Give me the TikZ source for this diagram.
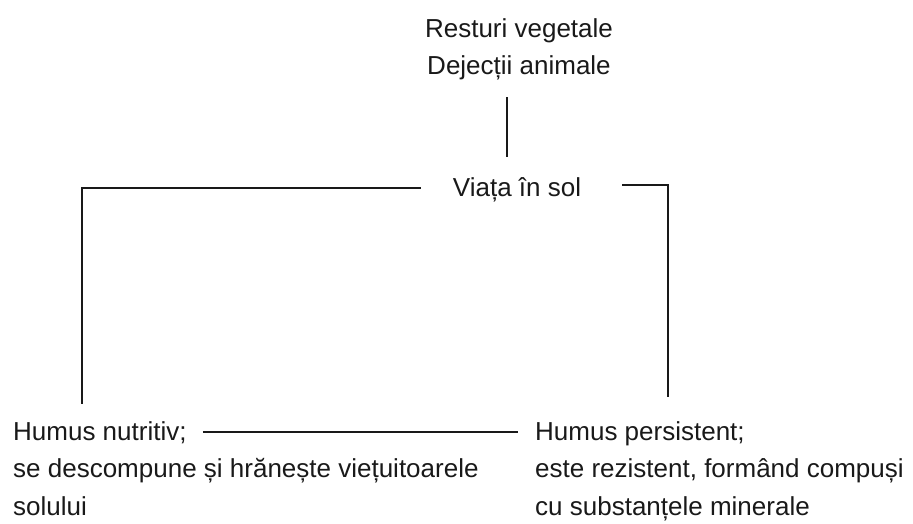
\documentclass[tikz,border=0pt]{standalone}
\usepackage{fontspec}
\setmainfont{Liberation Sans}
\usetikzlibrary{calc}

\begin{document}
\begin{tikzpicture}[x=1pt,y=-1pt]

		\tikzset{line/.style={draw,line width=1.8pt,black!90}}
		\tikzset{txt/.style={inner sep=0pt,text=black!90,font=\fontsize{26}{37.5}\selectfont}}
		\tikzset{gap/.style 2 args={shorten <=#1,shorten >=#2}}

		\useasboundingbox (0,0) rectangle (913,524);

		% Source of the organic matter.
		\node[txt,align=center,anchor=base] (src) at (519,75) {Resturi vegetale\\Dejecții animale};
		\node[txt,anchor=base] (life) at (517,196) {Viața în sol};

		% The two kinds of humus.
		\node[txt,anchor=base west] (nutr) at (13,440) {Humus nutritiv;};
		\node[txt,anchor=base west,align=left] (nutrd) at (13,515) {se descompune și hrănește viețuitoarele\\solului};
		\node[txt,anchor=base west] (pers) at (535,440) {Humus persistent;};
		\node[txt,anchor=base west,align=left] (persd) at (535,515) {este rezistent, formând compuși\\cu substanțele minerale};

		\path[line,gap={16.5pt}{20pt}] ([xshift=-12pt]src.south) to ([xshift=-12pt]src.south |- life.north);

		\path[line,gap={32pt}{17pt}] ([yshift=1pt]life.west) -| ([xshift=69pt]nutr.north west);
		\path[line,gap={41pt}{24pt}] ([yshift=4pt]life.east) -| ([xshift=133pt]pers.north west);

		\path[line,gap={16pt}{17pt}] (nutr.east) to (nutr.east -| pers.west);

	\end{tikzpicture}
\end{document}
